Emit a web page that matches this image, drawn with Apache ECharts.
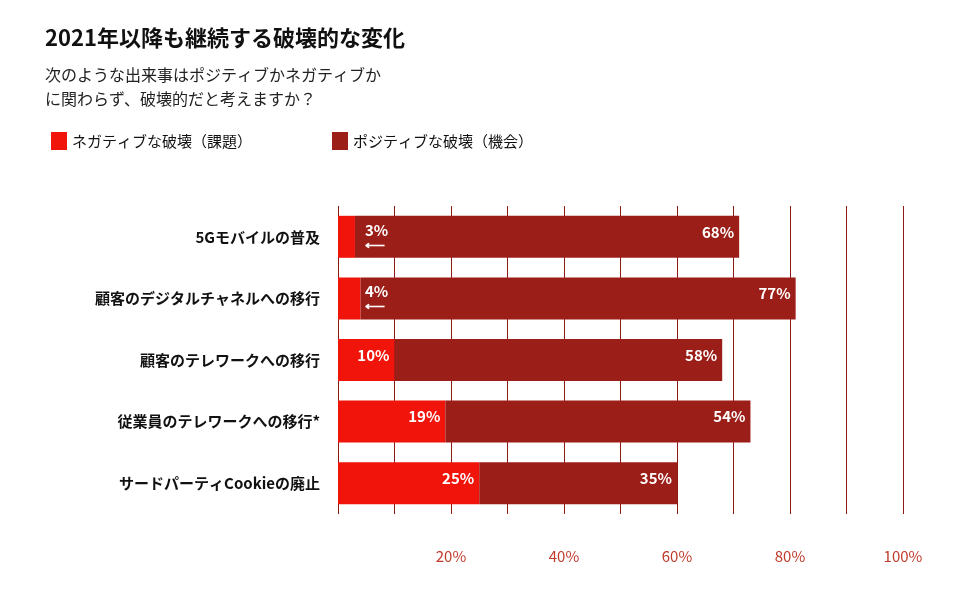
<!DOCTYPE html>
<html><head><meta charset="utf-8">
<script src="https://cdn.jsdelivr.net/npm/echarts@6/dist/echarts.min.js"></script>
<style>html,body{margin:0;padding:0;background:#fff}#c{width:965px;height:589px}</style>
</head><body><div id="c"></div>
<script>
var categories = ['5Gモバイルの普及', '顧客のデジタルチャネルへの移行', '顧客のテレワークへの移行', '従業員のテレワークへの移行*', 'サードパーティCookieの廃止'];
var negative = [3, 4, 10, 19, 25];
var positive = [68, 77, 58, 54, 35];
var tickLabels = ['', '', '20%', '', '40%', '', '60%', '', '80%', '', '100%'];

var font = '"Noto Sans CJK JP", "Noto Sans", sans-serif';
var chart = echarts.init(document.getElementById('c'));
chart.setOption({
    animation: false,
    textStyle: { fontFamily: font },
    title: {
        text: '2021年以降も継続する破壊的な変化',
        subtext: '次のような出来事はポジティブかネガティブか\nに関わらず、破壊的だと考えますか？',
        left: 40, top: 22,
        textStyle: { fontSize: 22, fontWeight: 'bold', color: '#111', fontFamily: font },
        subtextStyle: { fontSize: 16, color: '#222', lineHeight: 24, fontFamily: font },
        itemGap: 14
    },
    legend: {
        left: 46, top: 127, itemWidth: 16, itemHeight: 18, itemGap: 80,
        icon: 'rect',
        textStyle: { fontSize: 15, color: '#111', fontFamily: font },
        data: ['ネガティブな破壊（課題）', 'ポジティブな破壊（機会）']
    },
    grid: { left: 338, right: 62, top: 206, bottom: 75 },
    xAxis: {
        type: 'value', min: 0, max: 100, interval: 10,
        axisLine: { show: false }, axisTick: { show: false },
        splitLine: { lineStyle: { color: '#8b1a14', width: 1 } },
        axisLabel: {
            margin: 35, fontSize: 15, color: '#c0392b',
            formatter: function (v) { return tickLabels[v / 10]; }
        }
    },
    yAxis: {
        type: 'category', inverse: true, data: categories,
        axisLine: { show: false }, axisTick: { show: false },
        axisLabel: { margin: 18, fontSize: 15, fontWeight: 'bold', color: '#111' }
    },
    series: [{
        name: 'ネガティブな破壊（課題）', type: 'bar', stack: 'a', barWidth: 42,
        itemStyle: { color: '#f0140a' },
        data: negative.map(function (v) {
            var small = v < 5;
            return {
                value: v,
                label: {
                    show: true, position: small ? 'insideLeft' : 'insideRight',
                    offset: small ? [22, 0] : [0, -5],
                    formatter: small ? '{a|' + v + '%}\n{b|⟵}' : v + '%',
                    color: '#fff', fontSize: 15, fontWeight: 'bold',
                    rich: { a: { color: '#fff', fontSize: 15, fontWeight: 'bold' }, b: { color: '#fff', fontSize: 14 } }
                }
            };
        })
    }, {
        name: 'ポジティブな破壊（機会）', type: 'bar', stack: 'a', barWidth: 42,
        itemStyle: { color: '#9b1e18' },
        label: {
            show: true, position: 'insideRight', offset: [0, -5],
            formatter: '{c}%', color: '#fff', fontSize: 15, fontWeight: 'bold'
        },
        data: positive
    }]
});
</script></body></html>
